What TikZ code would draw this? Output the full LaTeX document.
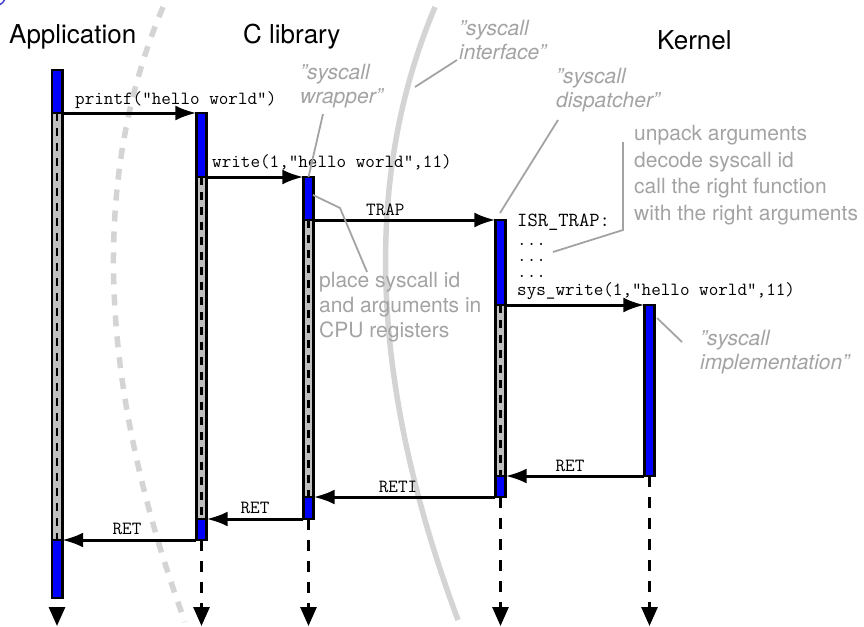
\documentclass[tikz,border=0pt]{standalone}
\usepackage{fontspec}
\setmainfont{TeX Gyre Heros}
\usetikzlibrary{arrows.meta}
\definecolor{notegray}{gray}{0.64}
\definecolor{bordergray}{gray}{0.83}
\definecolor{markblue}{rgb}{0.25,0.25,0.8}
\begin{document}
\begin{tikzpicture}[x=1pt,y=-1pt,
  bar/.style={rectangle,draw=black,line width=2.6pt,minimum width=10.4pt,inner sep=0pt,outer sep=0pt},
  active/.style={bar,fill=blue},
  waiting/.style={bar,fill=gray!50,
    path picture={\draw[black,line width=2.6pt,dash pattern=on 8pt off 7pt]
      (path picture bounding box.north) -- (path picture bounding box.south);}},
  msg/.style={line width=3pt,-{Latex[length=21pt,width=15pt]}},
  life/.style={line width=3pt,dash pattern=on 11pt off 10pt,-{Triangle[length=19pt,width=16pt]}},
  title/.style={font=\fontsize{26}{31}\selectfont,anchor=base west,inner sep=0pt},
  code/.style={font=\fontsize{18.6}{22}\ttfamily,inner sep=0pt},
  note/.style={font=\fontsize{21}{25}\selectfont,text=notegray,align=left,anchor=north west,inner sep=0pt},
  pointer/.style={draw=notegray,line width=1.8pt},
  boundary/.style={draw=bordergray,line width=5.5pt}
]
\useasboundingbox (0,0) rectangle (864,626);

% small mark in the corner
\draw[markblue,line width=1.5pt] (-3,-3) circle[radius=8];

% boundaries between the layers
\draw[boundary,dash pattern=on 11pt off 10pt] (163,7) .. controls (90,179) and (98,384) .. (185,622);
\draw[boundary] (435,7) .. controls (362,180) and (370,384) .. (458,620);

% titles
\node[title] (tapp) at (9,44) {Application};
\node[title] (tlib) at (243,44) {C library};
\node[title] (tker) at (657,50) {Kernel};

% activation bars: application
\node[active,minimum height=43pt]  (a1) at (57,91.5) {};
\node[waiting,minimum height=427pt] (a2) at (57,326.5) {};
\node[active,minimum height=58pt]  (a3) at (57,569) {};
% C library
\node[active,minimum height=64pt]  (b1) at (201.5,145) {};
\node[waiting,minimum height=342pt] (b2) at (201.5,348) {};
\node[active,minimum height=21pt]  (b3) at (201.5,529.5) {};
% syscall wrapper
\node[active,minimum height=43pt]  (c1) at (308.5,198.5) {};
\node[waiting,minimum height=277pt] (c2) at (308.5,358.5) {};
\node[active,minimum height=22pt]  (c3) at (308.5,508) {};
% syscall dispatcher
\node[active,minimum height=85pt]  (d1) at (500.5,262.5) {};
\node[waiting,minimum height=171pt] (d2) at (500.5,390.5) {};
\node[active,minimum height=21pt]  (d3) at (500.5,486.5) {};
% syscall implementation
\node[active,minimum height=171pt] (e1) at (649.5,390.5) {};

% lifelines continuing downwards
\coordinate (ea) at (57,626);
\coordinate (eb) at (201.5,626);
\coordinate (ec) at (308.5,626);
\coordinate (ed) at (500.5,626);
\coordinate (ee) at (649.5,626);
\draw[life,dash phase=11pt] (a3.south) -- (ea);
\draw[life] (b3.south) -- (eb);
\draw[life] (c3.south) -- (ec);
\draw[life] (d3.south) -- (ed);
\draw[life] (e1.south) -- (ee);

% calls
\draw[msg] (a1.south east) -- (b1.north west);
\draw[msg] (b1.south east) -- (c1.north west);
\draw[msg] (c1.south east) -- (d1.north west);
\draw[msg] (d1.south east) -- (e1.north west);
% returns
\draw[msg] (e1.south west) -- (d3.north east);
\draw[msg] (d3.south west) -- (c3.north east);
\draw[msg] (c3.south west) -- (b3.north east);
\draw[msg] (b3.south west) -- (a3.north east);

% call labels
\node[code,anchor=base west] (lprintf) at (75,104) {printf("hello world")};
\node[code,anchor=base west] (lwrite) at (212,167) {write(1,"hello world",11)};
\node[code,anchor=base west] (ltrap) at (366,215) {TRAP};
% the dispatcher's code listing, ending with the call into the kernel
\node[code,anchor=north west,align=left,font=\fontsize{18.6}{16}\ttfamily] (lisr) at (517,213.5)
  {{\fontsize{20}{22}\selectfont ISR\_TRAP:}\\[3pt]...\\...\\...\\[2pt]sys\_write(1,"hello world",11)};
% return labels
\node[code,anchor=base] (lret1) at (570,471) {RET};
\node[code,anchor=base] (lreti) at (398,492) {RETI};
\node[code,anchor=base] (lret2) at (255,513) {RET};
\node[code,anchor=base] (lret3) at (127,534) {RET};

% annotations
\node[note,font=\fontsize{21}{23.5}\itshape] (nwrap) at (300,64) {”syscall\\wrapper”};
\node[note,font=\fontsize{21}{24}\itshape] (nintf) at (459,20) {”syscall\\interface”};
\node[note,font=\fontsize{21}{24}\itshape] (ndisp) at (556,68) {”syscall\\dispatcher”};
\node[note,font=\fontsize{21}{26.5}\selectfont] (nunpack) at (634,125) {unpack arguments\\decode syscall id\\call the right function\\with the right arguments};
\node[note,font=\fontsize{21}{25}\selectfont] (nplace) at (319,272) {place syscall id\\and arguments in\\CPU registers};
\node[note,font=\fontsize{21}{24}\itshape] (nimpl) at (700,330) {”syscall\\implementation”};

% annotation pointers
\coordinate (pwrap) at (323,114);
\coordinate (pintf) at (457,60);
\coordinate (qintf) at (415,87);
\coordinate (pdisp) at (558,120);
\coordinate (qdisp) at (500,213);
\coordinate (pplace) at (313,195);
\coordinate (kplace) at (340,208);
\coordinate (qplace) at (367,272);
\coordinate (punpack) at (623,142);
\coordinate (kunpack) at (623,230);
\coordinate (qunpack) at (553,252);
\coordinate (pimpl) at (657,318);
\coordinate (qimpl) at (682,342);
\draw[pointer] (pwrap) -- (c1.north);
\draw[pointer] (pintf) -- (qintf);
\draw[pointer] (pdisp) -- (qdisp);
\draw[pointer] (pplace) -- (kplace) -- (qplace);
\draw[pointer] (punpack) -- (kunpack) -- (qunpack);
\draw[pointer] (pimpl) -- (qimpl);
\end{tikzpicture}
\end{document}
